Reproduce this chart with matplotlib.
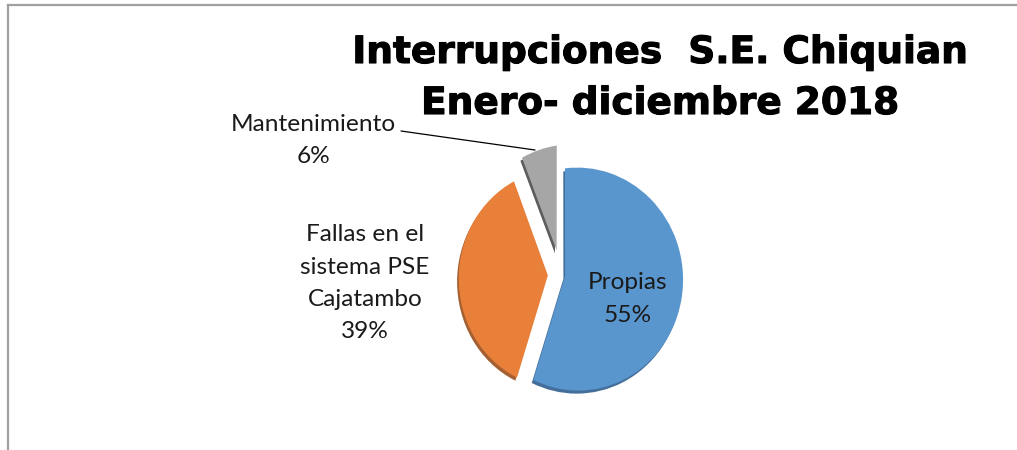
import numpy as np
import matplotlib
matplotlib.use("Agg")
import matplotlib.pyplot as plt
from matplotlib.transforms import Transform
from matplotlib.lines import Line2D
import matplotlib.patheffects as pe

# ---- data ----
categories = ["Propias", "Fallas en el\nsistema PSE\nCajatambo", "Mantenimiento"]
percentages = [55, 39, 6]
title_lines = ["Interrupciones  S.E. Chiquian", "Enero- diciembre 2018"]

# ---- style ----
colors = ["#5A96CE", "#E8803A", "#A6A6A6"]
shadow_colors = ["#2F5F8F", "#9A4F1C", "#4A4A4A"]
explode = [0.04, 0.13, 0.23]
label_font = "Lato"


class Perspective(Transform):
    """Maps unit-pie coordinates to pixel coordinates with a mild 3D perspective."""
    input_dims = 2
    output_dims = 2
    is_separable = False
    has_inverse = False

    def __init__(self, cx, cy, sx, sy, g, h):
        super().__init__()
        self.cx, self.cy, self.sx, self.sy, self.g, self.h = cx, cy, sx, sy, g, h

    def transform_non_affine(self, values):
        values = np.asarray(values, dtype=float)
        u, v = values[:, 0], values[:, 1]
        w = 1.0 - self.g * u + self.h * v
        return np.column_stack([self.cx + self.sx * u / w, self.cy - self.sy * v / w])


W, H = 1017, 450
fig = plt.figure(figsize=(W / 100, H / 100), dpi=100)
ax = fig.add_axes([0, 0, 1, 1])

wedges, _ = ax.pie(percentages, explode=explode, startangle=90, counterclock=False,
                   colors=colors, radius=1.0, center=(0, 0),
                   wedgeprops=dict(linewidth=0))
ax.set_xlim(0, W)
ax.set_ylim(H, 0)
ax.set_aspect("auto")
ax.axis("off")

persp = Perspective(cx=561, cy=275, sx=102.7, sy=110, g=0.12, h=0.03)
for w, sc in zip(wedges, shadow_colors):
    w.set_transform(persp + ax.transData)
    w.set_path_effects([pe.SimplePatchShadow(offset=(-1.2, -2.2), shadow_rgbFace=sc, alpha=0.9),
                        pe.Normal()])

# ---- labels ----
label_specs = [  # (center x, first baseline, line pitch)
    (628, 289, 33),
    (365, 241, 32.5),
    (313, 131, 32),
]
for cat, pct, (lx, ly, pitch) in zip(categories, percentages, label_specs):
    lines = f"{cat}\n{pct}%".split("\n")
    for i, line in enumerate(lines):
        ax.text(lx, ly + i * pitch, line, ha="center", va="baseline",
                fontsize=17.6, family=[label_font, "DejaVu Sans"], color="#1a1a1a")

# leader line for Mantenimiento
ax.annotate("", xy=(535, 150), xytext=(401, 131),
            arrowprops=dict(arrowstyle="-", color="black", lw=0.9,
                            shrinkA=0, shrinkB=0))

# ---- title ----
for line, by in zip(title_lines, [63, 114]):
    ax.text(660, by, line, ha="center", va="baseline", fontsize=27,
            fontweight="bold", family="DejaVu Sans", color="black",
            path_effects=[pe.withStroke(linewidth=0.8, foreground="black")])

# ---- chart border ----
fig.add_artist(Line2D([8 / W, 1.0], [1 - 5 / H, 1 - 5 / H], transform=fig.transFigure,
                      color="#a0a0a0", lw=1.6))
fig.add_artist(Line2D([8 / W, 8 / W], [0.0, 1 - 5 / H], transform=fig.transFigure,
                      color="#a0a0a0", lw=1.6))

fig.savefig("out.png", dpi=100, facecolor="white")
